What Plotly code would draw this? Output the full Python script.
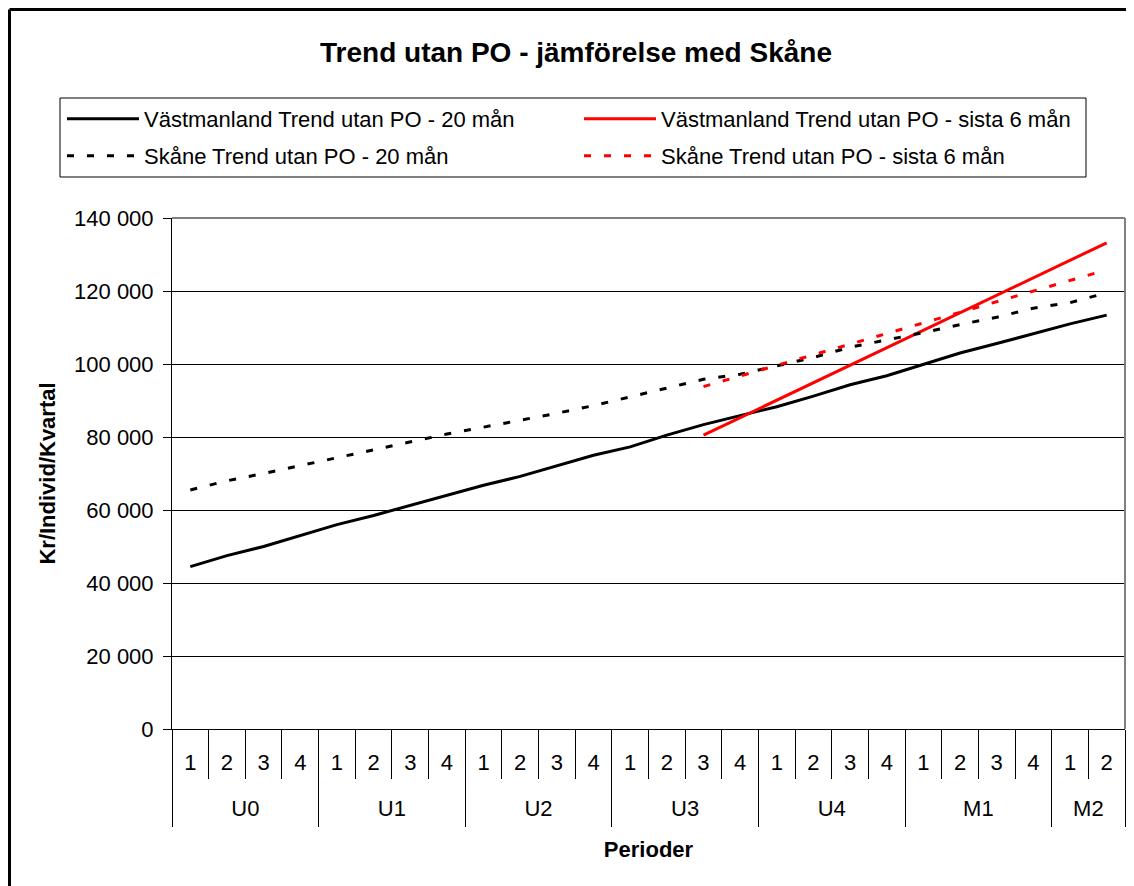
import plotly.graph_objects as go

# ---- data ----
groups = ["U0"] * 4 + ["U1"] * 4 + ["U2"] * 4 + ["U3"] * 4 + ["U4"] * 4 + ["M1"] * 4 + ["M2"] * 2
quarters = ["1", "2", "3", "4"] * 6 + ["1", "2"]

vastmanland_20 = [44500, 47500, 50000, 53000, 56000, 58500, 61200, 64000, 66800, 69200,
                  72000, 75000, 77300, 80500, 83400, 85800, 88300, 91200, 94300, 96800,
                  100000, 103000, 105600, 108400, 111000, 113400]
skane_20 = [65500, 68000, 70000, 72200, 74300, 76500, 78600, 80800, 82700, 84500,
            86500, 88600, 90900, 93400, 95800, 97200, 99500, 101800, 104600, 106500,
            108600, 110800, 112800, 115300, 116800, 119500]
vastmanland_6 = [None] * 14 + [80500, 85300, 90100, 94900, 99700, 104500, 109300,
                               114000, 118800, 123600, 128400, 133200]
skane_6 = [None] * 14 + [93800, 96700, 99600, 102500, 105400, 108300, 111200,
                         114100, 117000, 119900, 122800, 125800]

names = ["Västmanland Trend utan PO - 20 mån",
         "Västmanland Trend utan PO - sista 6 mån",
         "Skåne Trend utan PO - 20 mån",
         "Skåne Trend utan PO - sista 6 mån"]

# ---- category positions derived from the category lists ----
n = len(quarters)
pos = list(range(n))
cat_bounds = [i - 0.5 for i in range(n + 1)]
group_names, group_centers, group_bounds = [], [], [-0.5]
start = 0
for i in range(1, n + 1):
    if i == n or groups[i] != groups[start]:
        group_names.append(groups[start])
        group_centers.append((start + i - 1) / 2)
        group_bounds.append(i - 0.5)
        start = i

FONT = "Liberation Sans, Arial, sans-serif"
OFF = 8                      # page body margin
W, H = 1134 - OFF, 886 - OFF
L, T = 172 - OFF, 218 - OFF
R = W - (1125 - OFF)
B = H - (729 - OFF)
PW, PH = W - L - R, H - T - B


def px_x(x):                 # reference-picture x -> paper
    return (x - OFF - L) / PW


def px_y(y):                 # reference-picture y -> paper
    return (H - B - (y - OFF)) / PH


fig = go.Figure()
fig.add_trace(go.Scatter(x=pos, y=vastmanland_20, name=names[0], mode="lines",
                         line=dict(color="black", width=3), legend="legend",
                         xaxis="x"))
fig.add_trace(go.Scatter(x=pos, y=vastmanland_6, name=names[1], mode="lines",
                         line=dict(color="#ff0000", width=3), legend="legend",
                         xaxis="x2"))
fig.add_trace(go.Scatter(x=pos, y=skane_20, name=names[2], mode="lines",
                         line=dict(color="black", width=3, dash="7px,13px"),
                         legend="legend2", xaxis="x3"))
fig.add_trace(go.Scatter(x=pos, y=skane_6, name=names[3], mode="lines",
                         line=dict(color="#ff0000", width=3, dash="7px,13px"),
                         legend="legend2", xaxis="x4"))

legend_common = dict(orientation="h", xanchor="left", yanchor="middle",
                     font=dict(family=FONT, size=22, color="black"),
                     bgcolor="rgba(0,0,0,0)", borderwidth=0,
                     itemwidth=72, entrywidth=430, entrywidthmode="pixels",
                     itemclick=False, itemdoubleclick=False)

xrange = [-0.5, n - 0.5]
overlay = dict(overlaying="x", anchor="y", side="bottom", type="linear", range=xrange,
               showgrid=False, zeroline=False, showline=False, tickmode="array",
               tickcolor="black", tickwidth=1,
               tickfont=dict(family=FONT, size=22, color="black"))

fig.update_layout(
    width=W, height=H,
    margin=dict(l=L, r=R, t=T, b=B, autoexpand=False),
    paper_bgcolor="white", plot_bgcolor="white",
    separators=", ",
    showlegend=True,
    hovermode=False,
    title=dict(text="<b>Trend utan PO - jämförelse med Skåne</b>",
               font=dict(family=FONT, size=28, color="black"),
               x=(576 - OFF) / W, xref="container", xanchor="center",
               y=1 - (52 - OFF) / H, yref="container", yanchor="middle"),
    legend=dict(x=px_x(62), y=px_y(119), **legend_common),
    legend2=dict(x=px_x(62), y=px_y(156), **legend_common),
    yaxis=dict(range=[0, 140000], dtick=20000, tickformat=",d",
               showgrid=True, gridcolor="black", gridwidth=1,
               showline=True, linecolor="black", linewidth=1,
               ticks="outside", ticklen=8, tickcolor="black",
               ticklabelstandoff=5,
               tickfont=dict(family=FONT, size=22, color="black"),
               zeroline=False,
               title=dict(text="<b>Kr/Individ/Kvartal</b>", standoff=12,
                          font=dict(family=FONT, size=22, color="black"))),
    # quarter labels
    xaxis=dict(type="linear", range=xrange, showgrid=False, zeroline=False,
               showline=True, linecolor="black", linewidth=1,
               tickmode="array", tickvals=pos, ticktext=quarters, ticks="",
               ticklabelstandoff=14,
               tickfont=dict(family=FONT, size=22, color="black"),
               title=dict(text="<b>Perioder</b>", standoff=67,
                          font=dict(family=FONT, size=22, color="black"))),
    # separators between quarters
    xaxis2=dict(tickvals=cat_bounds, ticks="outside", ticklen=49,
                showticklabels=False, **overlay),
    # group labels
    xaxis3=dict(tickvals=group_centers, ticktext=group_names, ticks="",
                ticklabelstandoff=64, **overlay),
    # group dividers
    xaxis4=dict(tickvals=group_bounds, ticks="outside", ticklen=97,
                showticklabels=False, **overlay),
    shapes=[
        # plot area border (top, right)
        dict(type="line", xref="paper", yref="paper", x0=0, x1=1, y0=1, y1=1,
             line=dict(color="#808080", width=2)),
        dict(type="line", xref="paper", yref="paper", x0=1, x1=1, y0=0, y1=1,
             line=dict(color="#808080", width=2)),
        # legend box
        dict(type="rect", xref="paper", yref="paper",
             x0=px_x(60), x1=px_x(1086), y0=px_y(177), y1=px_y(98),
             line=dict(color="black", width=1), fillcolor="rgba(0,0,0,0)"),
        # outer frame
        dict(type="line", xref="paper", yref="paper",
             x0=px_x(9.5), x1=px_x(9.5), y0=px_y(900), y1=px_y(9.5),
             line=dict(color="black", width=3)),
        dict(type="line", xref="paper", yref="paper",
             x0=px_x(9.5), x1=px_x(1150), y0=px_y(9.5), y1=px_y(9.5),
             line=dict(color="black", width=3)),
    ],
)

fig.write_html("out.html")
